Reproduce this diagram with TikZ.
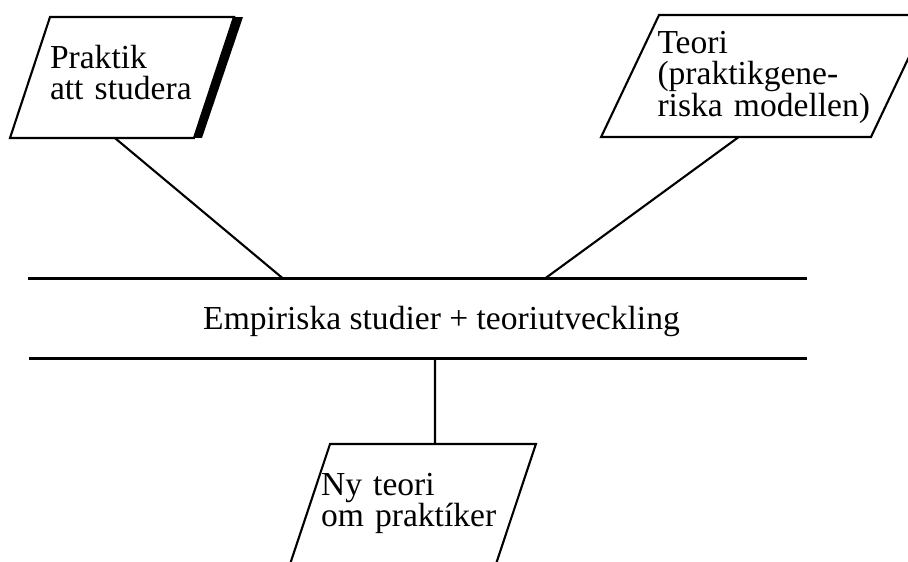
\documentclass[tikz,border=0pt]{standalone}
\usepackage{fontspec}
\setmainfont{Liberation Serif}
\usetikzlibrary{shapes.geometric,calc}

\begin{document}
\begin{tikzpicture}[
  x=0.02cm, y=-0.02cm,
  font=\fontsize{19.1pt}{18.2pt}\selectfont,
  slantbox/.style={draw, line width=1.2pt, shape=trapezium,
    inner ysep=0pt, outer sep=0pt, align=left},
  link/.style={line width=1.2pt},
  bar/.style={line width=1.8pt}
]
\useasboundingbox (0,0) rectangle (908,561);
\clip (0,0) rectangle (908,561);

% boxes
\node[slantbox, trapezium left angle=71.7, trapezium right angle=108.3,
  inner xsep=0pt, text width=2.88cm, text height=1.02cm, text depth=1.4cm]
  (prak) at (122,77.5) {Praktik\\att studera};
\node[slantbox, trapezium left angle=64.6, trapezium right angle=115.4,
  inner xsep=-0.03cm, text width=4.3cm, text height=0.76cm, text depth=1.68cm]
  (teori) at (765,76) {Teori\\(praktikgene-\\\mbox{riska modellen)}};
\node[slantbox, trapezium left angle=71.6, trapezium right angle=108.4,
  inner xsep=-0.18cm, text width=3.68cm, text height=1.02cm, text depth=1.38cm]
  (ny) at (413,504) {Ny teori\\om praktíker};

% band
\node (emp) at (441.5,321) {Empiriska studier + teoriutveckling};
\draw[bar] (28,278.5) coordinate (topL) -- (807,278.5) coordinate (topR);
\draw[bar] (29,358.5) coordinate (botL) -- (807,358.5) coordinate (botR);
\coordinate (juncL) at (283,278.5);
\coordinate (juncR) at (545,278.5);
\coordinate (juncB) at (435,358.5);

% thick right edge
\fill (prak.top right corner) -- ++(9,0) -- ($(prak.bottom right corner)+(8,0)$)
  -- (prak.bottom right corner) -- cycle;

\draw[link] ($(prak.bottom left corner)!0.57!(prak.bottom right corner)$) -- (juncL);
\draw[link] ($(teori.bottom left corner)!0.51!(teori.bottom right corner)$) -- (juncR);
\draw[link] (juncB) -- ($(ny.top left corner)!0.51!(ny.top right corner)$);
\end{tikzpicture}
\end{document}
